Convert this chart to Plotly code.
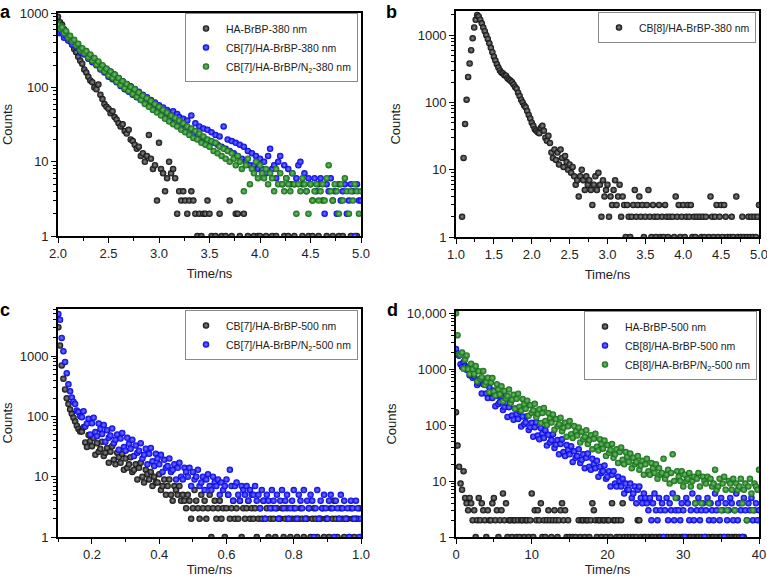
import plotly.graph_objects as go

FONT = "Liberation Sans, Arial, Helvetica, sans-serif"

# ---------------- data (counts per time channel) ----------------
# Panel a: time channels start at 2.00 ns, 0.02 ns apart
A_T0, A_DT = 2.0, 0.02
A_BLACK = [900,760,700,610,560,480,420,380,330,300,
           260,230,210,175,160,140,125,118,100,95,
           110,80,70,60,55,52,45,48,40,37,
           33,30,32,26,24,27,20,19,17,15,
           16,12,13,10,12,23,11,8,9,3,
           18,8,7,4,6,10,7,8,6,2,
           4,3,4,3,2,3,4,3,2,1,
           2,1,2,2,3,2,1,0,1,0,
           2,1,0,1,0,3,1,0,2,2,
           1,0,2,0,1,0,0,1,0,1,
           1,0,0,1,0,0,1,0,1,0,
           0,0,1,0,1,0,0,1,0,0,
           0,1,0,0,1,0,1,0,0,1,
           0,0,0,1,0,0,1,0,0,1,
           0,1,0,0,0,1,0,0,1,0,0]
A_BLUE = [600,540,560,470,500,430,450,380,410,350,
          360,300,330,280,300,245,270,220,240,200,
          215,175,195,160,180,140,165,130,150,118,
          135,105,122,95,112,88,104,80,96,74,
          88,68,80,62,74,57,68,52,63,48,
          58,44,54,40,50,46,36,48,34,44,
          40,31,38,28,36,26,42,24,33,23,
          30,21,28,20,27,19,25,18,23,17,
          22,16,30,15,20,14,19,13,18,12,
          17,11,16,10,14,9,13,9,12,8,
          11,8,10,7,12,15,8,9,6,10,
          12,5,9,6,8,5,7,5,6,9,
          10,5,7,4,6,5,3,6,4,5,
          6,3,2,5,4,6,3,4,2,5,
          3,4,5,2,3,5,4,1,5,3,
          3]
A_GREEN = [700,620,650,540,580,470,500,420,440,370,
           390,320,340,290,310,255,280,230,250,205,
           225,180,200,165,180,145,165,135,150,120,
           135,108,122,98,112,90,102,82,95,75,
           86,68,78,60,72,55,66,50,60,46,
           55,42,50,38,46,35,42,32,39,30,
           36,27,33,25,30,23,28,21,26,20,
           24,18,22,17,20,16,19,14,18,13,
           16,12,15,11,14,10,13,11,9,12,
           10,8,4,9,11,5,8,7,10,6,
           9,7,6,8,5,7,6,4,8,5,
           7,5,4,6,5,4,7,5,2,5,
           4,6,5,4,2,5,3,4,5,3,
           4,5,3,6,9,4,3,5,4,2,
           5,3,6,4,2,4,3,5,4,2,
           4]

# Panel b: channels start at 1.00 ns, 0.02 ns apart
B_T0, B_DT = 1.0, 0.02
B_BLACK = [0,0,0,0,2,15,48,110,240,380,
           600,900,1300,1700,2000,1900,1700,1500,1300,1150,
           1000,880,760,650,560,480,420,370,330,300,
           280,270,255,250,230,220,210,200,185,170,
           160,140,125,110,100,90,85,75,65,58,
           50,45,40,38,36,35,42,45,38,30,
           27,32,25,18,15,20,14,18,12,20,
           15,11,16,13,10,12,9,11,8,6,
           7,4,8,10,7,5,8,6,7,5,
           3,6,8,5,9,6,2,7,4,5,
           6,2,4,3,5,7,3,4,6,2,
           4,3,1,3,2,1,2,3,5,2,
           3,4,2,3,1,2,3,5,2,1,
           3,2,1,2,3,1,2,1,3,2,
           1,2,0,2,1,4,2,3,1,2,
           3,1,2,3,2,3,1,2,1,2,
           0,2,1,2,1,2,0,1,4,2,
           1,2,3,1,2,3,1,3,2,1,
           0,1,2,1,0,4,1,0,1,2,
           1,0,1,2,1,2,1,2,1,2,
           3]

# Panel c: channels start at 0.100 ns, 0.005 ns apart
C_T0, C_DT = 0.1, 0.005
C_BLACK = [3000,1500,700,420,280,200,160,130,110,95,
           82,70,62,56,56,66,37,31,49,39,
           32,44,23,36,26,29,38,22,25,30,
           17,26,32,19,16,25,21,17,24,13,
           20,14,16,21,12,13,16,9,14,17,
           10,8,13,11,9,12,7,10,8,8,
           11,6,7,9,5,7,9,5,4,7,
           6,5,7,4,5,4,
           3,5,4,2,3,6,4,3,2,5, 3,4,2,3,5,1,3,4,2,3,
           4,2,3,1,3,5,2,3,4,2, 3,2,4,1,3,2,3,4,2,3,
           2,3,1,2,3,2,4,2,3,1, 2,3,2,1,3,2,2,3,1,2,
           3,2,1,2,3,2,1,2,3,2, 1,2,2,3,1,2,3,2,1,2,
           2,3,1,2,2,1,3,2,4,2, 1,2,3,2,1,2,2,1,3,2, 1,2,2,3,1]
C_BLUE = [5000,4000,2000,1200,800,520,340,260,205,175,
          160,125,118,100,97,122,68,76,91,50,
          77,95,55,47,76,62,51,72,38,59,
          44,48,63,36,41,50,28,43,53,31,
          27,44,35,29,41,22,33,25,27,36,
          20,23,29,16,24,30,18,15,24,20,
          16,23,12,19,14,15,20,12,13,16,
          9,14,17,10,9,14,12,10,14,7,
          12,9,10,13,7,8,10,6,9,11,
          7,6,10,8,7,9,5,8,6,7,
          9,5,13,7,4,7,8,5,4,7,
          6,5,7,4,6,5,5,7,4,
          5,3,6,4,2,5,4,3,6,4, 3,5,2,4,6,3,4,5,2,3,
          4,6,3,2,5,4,3,6,2,4, 3,5,4,1,3,6,2,4,3,5,
          3,2,4,5,3,1,4,3,2,5, 3,4,2,3,1,4,3,2,4,3, 1,2]

# Panel d: channels start at 0 ns, 0.2 ns apart
D_T0, D_DT = 0.0, 0.2
D_BLACK = [170,43,18,9,7, 15,5,4,3,5, 4,2,3,1,2, 5,2,4,3,2,
           1,3,2,2,4, 5,2,3,1,2, 3,6,2,4,1, 2,2,1,2,2,
           1,2,1,2,2, 1,2,2,1,2, 6,1,3,2,3, 2,4,1,2,1,
           2,3,2,1,2, 3,2,1,2,3, 4,2,3,1,2, 1,0,1,0,1,
           0,2,1,2,2, 1,2,2,1,2, 4,3,2,1,2, 2,1,2,2,1,
           2,2,1,4,2, 2,1,2,1,2, 4,1,0,1,0, 1,0,1,0,1,
           2,2,1,0,1, 1,0,1,0,1, 1,0,1,0,1, 1,0,1,0,1,
           1,0,1,0,1, 1,0,1,0,1, 1,0,1,0,1, 1,0,1,0,1,
           1,0,1,0,1, 1,0,1,0,1, 1,0,1,0,1, 1,0,1,0,1,
           1,0,1,0,1, 1,0,1,0,1,
           1]
D_BLUE = [2300,1870,1740,1221,1094,1350,1138,979,1104,778,
          978,700,745,945,520,570,672,368,539,644,
          366,304,475,378,306,416,218,330,239,258,
          331,186,211,253,140,209,255,148,125,198,
          158,129,177,94,143,104,112,144,82,92,
          110,62,92,113,65,56,89,71,59,81,
          43,67,49,54,69,39,45,54,30,46,
          56,33,28,44,36,30,42,22,34,26,
          28,37,21,24,30,17,26,31,18,16,
          25,20,17,23,12,18,14,15,19,11,
          12,15,8,13,15,9,8,12,10,8,
          11,6,9,7,7,9,5,6,8,4,
          7,8,5,4,6,5,
          4,3,5,2,4,6,3,2,5,3, 4,1,3,5,2,4,3,6,2,3,
          5,3,2,4,3,1,5,4,2,3, 6,2,4,3,5,2,3,4,1,3,
          5,2,4,3,2,6,3,4,2,5, 3,1,4,2,3,5,4,2,3,6,
          2,4,3,1,5,3,2,4,3,5, 2,3,4,2,3]
D_GREEN = [10000,4050,1840,1805,1980,1015,1485,1764,1003,818,
           1250,1003,824,1138,605,920,669,720,932,524,
           589,702,389,578,693,400,338,538,436,356,
           494,265,409,303,332,432,248,285,348,196,
           297,365,214,182,293,236,196,274,147,227,
           167,184,240,138,158,192,109,165,203,119,
           101,164,133,111,155,83,128,95,104,136,
           78,90,110,62,95,118,69,59,96,78,
           65,91,49,76,56,62,81,46,54,66,
           37,57,70,41,35,56,46,38,53,28,
           44,32,36,46,26,30,37,21,33,40,
           24,20,33,27,22,31,17,26,20,22,
           28,16,19,23,13,20,25,15,13,21,
           17,14,20,11,17,13,14,25,11,13,
           16,9,14,30,10,5,15,12,10,15,
           8,13,10,11,14,8,10,12,4,11,
           14,8,4,12,10,9,12,4,11,8,
           9,16,7,8,11,3,9,12,7,3,
           10,9,7,11,3,9,7,8,11,4,
           7,9,2,8,11,6,3,9,8,7,
           16]

# ---------------- styling ----------------
COLORS = {
    "black": ("#0c0c0c", "#8e8e8e"),
    "blue": ("#0000e6", "#7a7aff"),
    "green": ("#146c14", "#72c272"),
}

fig = go.Figure()


def add(t0, dt, counts, name, col, xa, ya, legend):
    xs, ys = [], []
    for i, c in enumerate(counts):
        if c > 0:
            xs.append(round(t0 + dt * i, 4))
            ys.append(c)
    edge, center = COLORS[col]
    fig.add_trace(go.Scatter(
        x=xs, y=ys, mode="markers", name=name,
        marker=dict(size=6.5, color=edge,
                    gradient=dict(type="radial", color=center),
                    line=dict(width=0)),
        xaxis=xa, yaxis=ya, legend=legend))


add(A_T0, A_DT, A_BLACK, "HA-BrBP-380 nm", "black", "x", "y", "legend")
add(A_T0, A_DT, A_BLUE, "CB[7]/HA-BrBP-380 nm", "blue", "x", "y", "legend")
add(A_T0, A_DT, A_GREEN, "CB[7]/HA-BrBP/N<sub>2</sub>-380 nm", "green", "x", "y", "legend")
add(B_T0, B_DT, B_BLACK, "CB[8]/HA-BrBP-380 nm", "black", "x2", "y2", "legend2")
add(C_T0, C_DT, C_BLACK, "CB[7]/HA-BrBP-500 nm", "black", "x3", "y3", "legend3")
add(C_T0, C_DT, C_BLUE, "CB[7]/HA-BrBP/N<sub>2</sub>-500 nm", "blue", "x3", "y3", "legend3")
add(D_T0, D_DT, D_BLACK, "HA-BrBP-500 nm", "black", "x4", "y4", "legend4")
add(D_T0, D_DT, D_BLUE, "CB[8]/HA-BrBP-500 nm", "blue", "x4", "y4", "legend4")
add(D_T0, D_DT, D_GREEN, "CB[8]/HA-BrBP/N<sub>2</sub>-500 nm", "green", "x4", "y4", "legend4")

W, H = 767, 577


def px(x0, x1):
    return [x0 / W, x1 / W]


def py(top, bottom):
    return [1 - bottom / H, 1 - top / H]


base = dict(showline=True, linewidth=1.6, linecolor="black", mirror=True,
            ticks="outside", ticklen=5, tickwidth=1.3, tickcolor="black",
            showgrid=False, zeroline=False, automargin=False,
            ticklabeloverflow="allow",
            tickfont=dict(family=FONT, size=13, color="#222"))

minor_log = [m * 10 ** k for k in range(0, 4) for m in range(2, 10)]


def xax(dom, rng, dtick, tick0, mdt, fmt, anchor, standoff):
    d = dict(base)
    d.update(domain=dom, range=rng, dtick=dtick, tick0=tick0, tickformat=fmt,
             anchor=anchor,
             minor=dict(dtick=mdt, tick0=tick0, ticks="outside", ticklen=3,
                        tickwidth=1, tickcolor="black"),
             title=dict(text="Time/ns", font=dict(family=FONT, size=13, color="#222"),
                        standoff=standoff))
    return d


def yax(dom, rng, vals, texts, anchor, standoff):
    d = dict(base)
    d.update(domain=dom, type="log", range=rng, tickvals=vals, ticktext=texts,
             anchor=anchor,
             minor=dict(tickvals=minor_log, ticks="outside", ticklen=3,
                        tickwidth=1, tickcolor="black"),
             title=dict(text="Counts", font=dict(family=FONT, size=13, color="#222"),
                        standoff=standoff))
    return d


leg = dict(bgcolor="white", bordercolor="#8a8a8a", borderwidth=1,
           font=dict(family=FONT, size=10.5, color="#222"),
           xanchor="right", yanchor="top", tracegroupgap=0,
           itemwidth=30)

DEC = [1, 10, 100, 1000]
DEC_T = ["1", "10", "100", "1000"]

fig.update_layout(
    width=W, height=H, autosize=False,
    margin=dict(l=0, r=0, t=0, b=0),
    paper_bgcolor="white", plot_bgcolor="white",
    font=dict(family=FONT, color="#222"),
    xaxis=xax(px(58, 361), [2.0, 5.0], 0.5, 2.0, 0.25, ".1f", "y", 8),
    yaxis=yax(py(13, 236), [0, 3.005], DEC, DEC_T, "x", 7),
    xaxis2=xax(px(456, 759), [1.0, 5.0], 0.5, 1.0, 0.25, ".1f", "y2", 8),
    yaxis2=yax(py(11, 237), [0, 3.36], DEC, DEC_T, "x2", 14),
    xaxis3=xax(px(58, 361), [0.099, 1.0], 0.2, 0.2, 0.1, ".1f", "y3", 5),
    yaxis3=yax(py(309, 537), [0, 3.78], DEC, DEC_T, "x3", 7),
    xaxis4=xax(px(456, 759), [0, 40], 10, 0, 5, "d", "y4", 5),
    yaxis4=yax(py(311, 537), [0, 4.04], DEC + [10000], DEC_T + ["10,000"], "x4", 7),
    legend=dict(leg, x=358 / W, y=1 - 13 / H),
    legend2=dict(leg, x=756 / W, y=1 - 12 / H),
    legend3=dict(leg, x=358 / W, y=1 - 310 / H),
    legend4=dict(leg, x=757 / W, y=1 - 311 / H),
    showlegend=True,
)

for letter, x, y in [("a", -2, 0), ("b", 384, 0), ("c", -2, 298), ("d", 385, 298)]:
    fig.add_annotation(text=f"<b>{letter}</b>", x=x / W, y=1 - y / H,
                       xref="paper", yref="paper", xanchor="left", yanchor="top",
                       showarrow=False, font=dict(family=FONT, size=18, color="black"))

fig.write_html("out.html", config={"displayModeBar": False},
               post_script="document.body.style.margin='0';")
